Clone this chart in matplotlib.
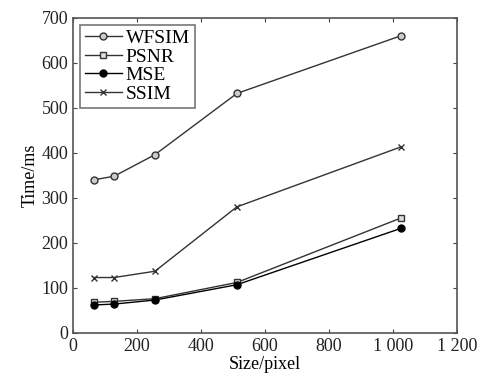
import numpy as np
import matplotlib.pyplot as plt

plt.rcParams['font.family'] = ['Liberation Serif', 'DejaVu Serif']

size = [64, 128, 256, 512, 1024]
wfsim = [340, 348, 396, 532, 660]
psnr = [68, 70, 76, 112, 255]
mse = [62, 64, 73, 107, 232]
ssim = [123, 123, 137, 280, 413]

fig = plt.figure(figsize=(4.84, 3.8), dpi=100)
ax = fig.add_axes([0.151, 0.124, 0.793, 0.829])

lc = '#333333'
ax.plot(size, wfsim, color=lc, lw=1, marker='o', ms=5, mfc='#cccccc', mec=lc, label='WFSIM')
ax.plot(size, psnr, color=lc, lw=1, marker='s', ms=5, mfc='#dddddd', mec=lc, label='PSNR')
ax.plot(size, mse, color='black', lw=1, marker='o', ms=5, mfc='black', mec='black', label='MSE')
ax.plot(size, ssim, color=lc, lw=1, marker='x', ms=5, mec=lc, label='SSIM')

ax.set_xlim(0, 1200)
ax.set_ylim(0, 700)
ax.set_xticks([0, 200, 400, 600, 800, 1000, 1200])
ax.set_xticklabels(['0', '200', '400', '600', '800', '1 000', '1 200'])
ax.set_yticks(range(0, 701, 100))
ax.tick_params(direction='in', top=True, right=True, labelsize=13, colors='#444444',
               labelcolor='#222222', length=3)
for s in ax.spines.values():
    s.set_color('#555555')
    s.set_linewidth(1.2)

ax.set_xlabel('Size/pixel', fontsize=13, labelpad=1)
ax.set_ylabel('Time/ms', fontsize=13, labelpad=2)

leg = ax.legend(loc='upper left', fontsize=14, frameon=True, fancybox=False,
                handlelength=1.9, handletextpad=0.2, labelspacing=0.05,
                borderpad=0.25, borderaxespad=0.35)
leg.get_frame().set_edgecolor('#555555')
leg.get_frame().set_linewidth(1.2)

fig.savefig('out.png', dpi=100)
